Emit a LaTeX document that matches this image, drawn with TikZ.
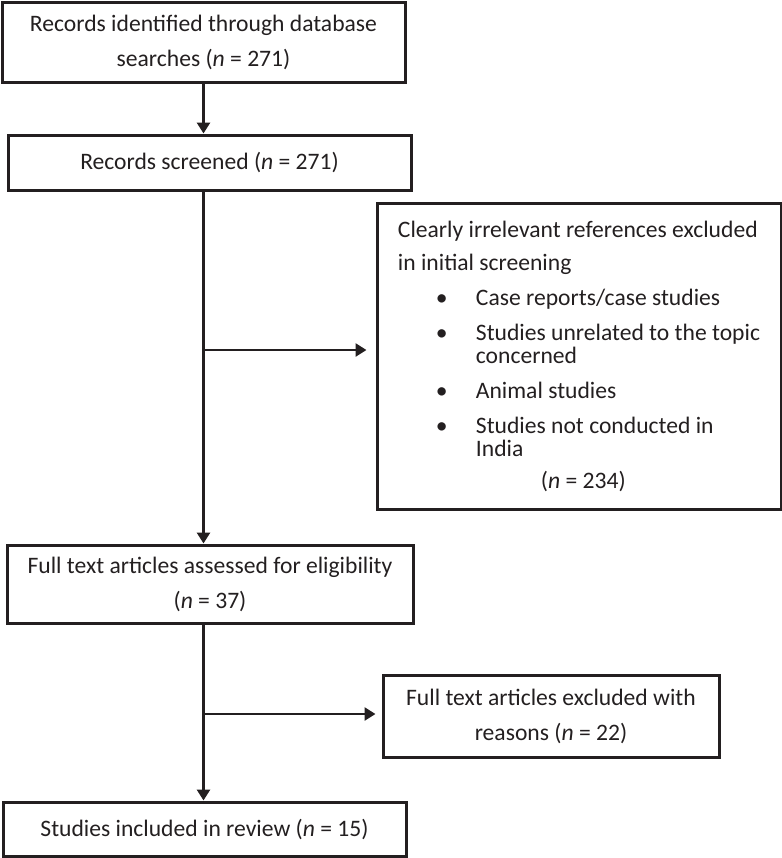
\documentclass[tikz,border=0pt]{standalone}
\usepackage{fontspec}
\setmainfont{Carlito}
\usetikzlibrary{arrows.meta}
\definecolor{ink}{HTML}{231F20}
\newcommand{\bitem}{\hspace*{19pt}\makebox[20pt][l]{\textbullet}}
\newcommand{\bcont}{\hspace*{39pt}}

\begin{document}
\begin{tikzpicture}[x=0.5pt, y=-0.5pt,
        box/.style={draw=ink, line width=1.5pt, text=ink, align=center,
            font=\fontsize{11.8}{17.5}\selectfont, inner sep=0pt},
        arr/.style={draw=ink, line width=1.6pt, -{Triangle[length=5.5pt,width=6.5pt]}}]
            \useasboundingbox (0,0) rectangle (782,858);

            \node[box, minimum width=201.5pt, minimum height=40pt] (ident) at (203.5,42) {Records identified through database\\searches (\textit{n} = 271)};
            \node[box, minimum width=201.5pt, minimum height=27.5pt] (screen) at (209.5,162.5) {Records screened (\textit{n} = 271)};
            \node[box, minimum width=203pt, minimum height=39pt] (full) at (210,584) {Full text articles assessed for eligibility\\(\textit{n} = 37)};
            \node[box, minimum width=201.5pt, minimum height=27pt] (incl) at (204.5,829) {Studies included in review (\textit{n} = 15)};

            \node[box, align=left, minimum width=202pt, minimum height=153pt,
                font=\fontsize{11.8}{11.5}\selectfont] (excl) at (579,356) {Clearly irrelevant references excluded\\[5pt]
                in initial screening\\[6pt]
                \bitem Case reports/case studies\\[6pt]
                \bitem Studies unrelated to the topic\\
                \bcont concerned\\[6pt]
                \bitem Animal studies\\[6pt]
                \bitem Studies not conducted in\\
                \bcont India\\[4.5pt]
                \hspace*{71.5pt}(\textit{n} = 234)};
            \node[box, minimum width=168pt, minimum height=41pt] (fullexcl) at (551,716) {Full text articles excluded with\\reasons (\textit{n} = 22)};

            \coordinate (b1) at (203.5,350);
            \coordinate (b2) at (203.5,714);

            \draw[arr] (ident.south) -- (ident.south |- screen.north);
            \draw[arr] (ident.south |- screen.south) -- (ident.south |- full.north);
            \draw[arr] (ident.south |- full.south) -- (ident.south |- incl.north);
            \draw[arr, line width=1.3pt, shorten >=4.5pt] (b1) -- (b1 -| excl.west);
            \draw[arr, line width=1.3pt, shorten >=3pt] (b2) -- (b2 -| fullexcl.west);
        \end{tikzpicture}
\end{document}
